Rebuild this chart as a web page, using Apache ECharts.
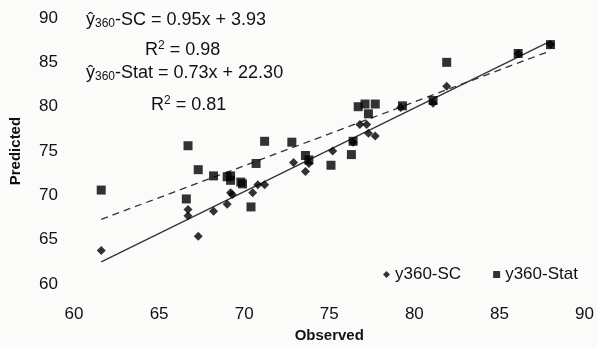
<!DOCTYPE html>
<html>
<head>
<meta charset="utf-8">
<script src="https://cdn.jsdelivr.net/npm/echarts@6/dist/echarts.min.js"></script>
<style>
  html, body { margin: 0; padding: 0; background: #fbfbfa; }
  #chart { width: 597px; height: 348px; }
</style>
</head>
<body>
<div id="chart"></div>
<script>
// observed / predicted pairs
const scObserved = [61.6, 66.7, 66.7, 67.3, 68.2, 69.0, 69.2, 69.3, 70.5, 70.8, 71.2, 72.9, 73.6, 73.8, 75.2, 76.4, 76.8, 77.2, 77.3, 77.7, 79.2, 81.1, 81.9, 86.1, 88.0];
const scPredicted = [63.8, 68.4, 67.7, 65.4, 68.2, 69.0, 70.3, 70.1, 70.3, 71.2, 71.2, 73.7, 72.7, 73.6, 75.0, 76.0, 78.0, 78.0, 77.0, 76.7, 79.9, 80.4, 82.3, 86.0, 87.0];

const statObserved = [61.6, 66.7, 67.3, 66.6, 68.2, 69.0, 69.2, 69.2, 69.8, 69.9, 70.4, 70.7, 71.2, 72.8, 73.6, 73.8, 75.1, 76.3, 76.4, 76.7, 77.1, 77.7, 77.3, 79.3, 81.1, 81.9, 86.1, 88.0];
const statPredicted = [70.6, 75.6, 72.9, 69.6, 72.2, 72.1, 72.2, 71.7, 71.5, 71.3, 68.7, 73.6, 76.1, 76.0, 74.5, 74.0, 73.4, 74.6, 76.1, 80.0, 80.3, 80.3, 79.2, 80.1, 80.7, 85.0, 86.0, 87.0];

// fitted line end points
const scFitX = [61.6, 88.0];
const scFitY = [62.5, 87.4];
const statFitX = [61.6, 88.0];
const statFitY = [67.3, 86.3];

const seriesNames = ["y360-SC", "y360-Stat"];

const zip = (xs, ys) => xs.map((x, i) => [x, ys[i]]);

const chart = echarts.init(document.getElementById("chart"));
const font = "Liberation Sans, Arial, sans-serif";

const option = {
  backgroundColor: "#fbfbfa",
  animation: false,
  textStyle: { fontFamily: font },
  grid: { left: 74, right: 12, top: 18, bottom: 60 },
  legend: {
    data: [
      { name: seriesNames[0], icon: "diamond" },
      { name: seriesNames[1], icon: "rect" }
    ],
    left: 378,
    top: 261,
    itemWidth: 7,
    itemHeight: 7,
    itemGap: 32,
    textStyle: { fontSize: 17, color: "#111", fontFamily: font }
  },
  xAxis: {
    type: "value",
    min: 60,
    max: 90,
    interval: 5,
    name: "Observed",
    nameLocation: "middle",
    nameGap: 42,
    nameTextStyle: { fontSize: 15, fontWeight: "bold", color: "#111" },
    axisLine: { show: false },
    axisTick: { show: false },
    splitLine: { show: false },
    axisLabel: { fontSize: 17, color: "#111", margin: 22 }
  },
  yAxis: {
    type: "value",
    min: 60,
    max: 90,
    interval: 5,
    name: "Predicted",
    nameLocation: "middle",
    nameGap: 51,
    nameRotate: 90,
    nameTextStyle: { fontSize: 15, fontWeight: "bold", color: "#111" },
    axisLine: { show: false },
    axisTick: { show: false },
    splitLine: { show: false },
    axisLabel: { fontSize: 17, color: "#111", margin: 16 }
  },
  series: [
    {
      name: seriesNames[0],
      type: "scatter",
      symbol: "diamond",
      symbolSize: 9,
      itemStyle: { color: "#000" },
      data: zip(scObserved, scPredicted),
      z: 3
    },
    {
      name: seriesNames[1],
      type: "scatter",
      symbol: "rect",
      symbolSize: 9,
      itemStyle: { color: "#000" },
      data: zip(statObserved, statPredicted),
      z: 3
    },
    {
      name: "fit-SC",
      type: "line",
      showSymbol: false,
      lineStyle: { color: "#333", width: 1.3, type: "solid" },
      data: zip(scFitX, scFitY),
      z: 2
    },
    {
      name: "fit-Stat",
      type: "line",
      showSymbol: false,
      lineStyle: { color: "#333", width: 1.3, type: [7, 5] },
      data: zip(statFitX, statFitY),
      z: 2
    }
  ],
  graphic: [
    {
      type: "text",
      left: 86,
      top: 11,
      style: {
        text: "ŷ{sub|360}-SC = 0.95x + 3.93",
        font: "18px " + font,
        fill: "#111",
        rich: { sub: { fontSize: 12, padding: [7, 0, 0, 0] } }
      }
    },
    {
      type: "text",
      left: 145,
      top: 40,
      style: {
        text: "R{sup|2} = 0.98",
        font: "18px " + font,
        fill: "#111",
        rich: { sup: { fontSize: 12, padding: [0, 0, 9, 0] } }
      }
    },
    {
      type: "text",
      left: 86,
      top: 64,
      style: {
        text: "ŷ{sub|360}-Stat = 0.73x + 22.30",
        font: "18px " + font,
        fill: "#111",
        rich: { sub: { fontSize: 12, padding: [7, 0, 0, 0] } }
      }
    },
    {
      type: "text",
      left: 151,
      top: 95,
      style: {
        text: "R{sup|2} = 0.81",
        font: "18px " + font,
        fill: "#111",
        rich: { sup: { fontSize: 12, padding: [0, 0, 9, 0] } }
      }
    }
  ]
};

chart.setOption(option);
</script>
</body>
</html>
